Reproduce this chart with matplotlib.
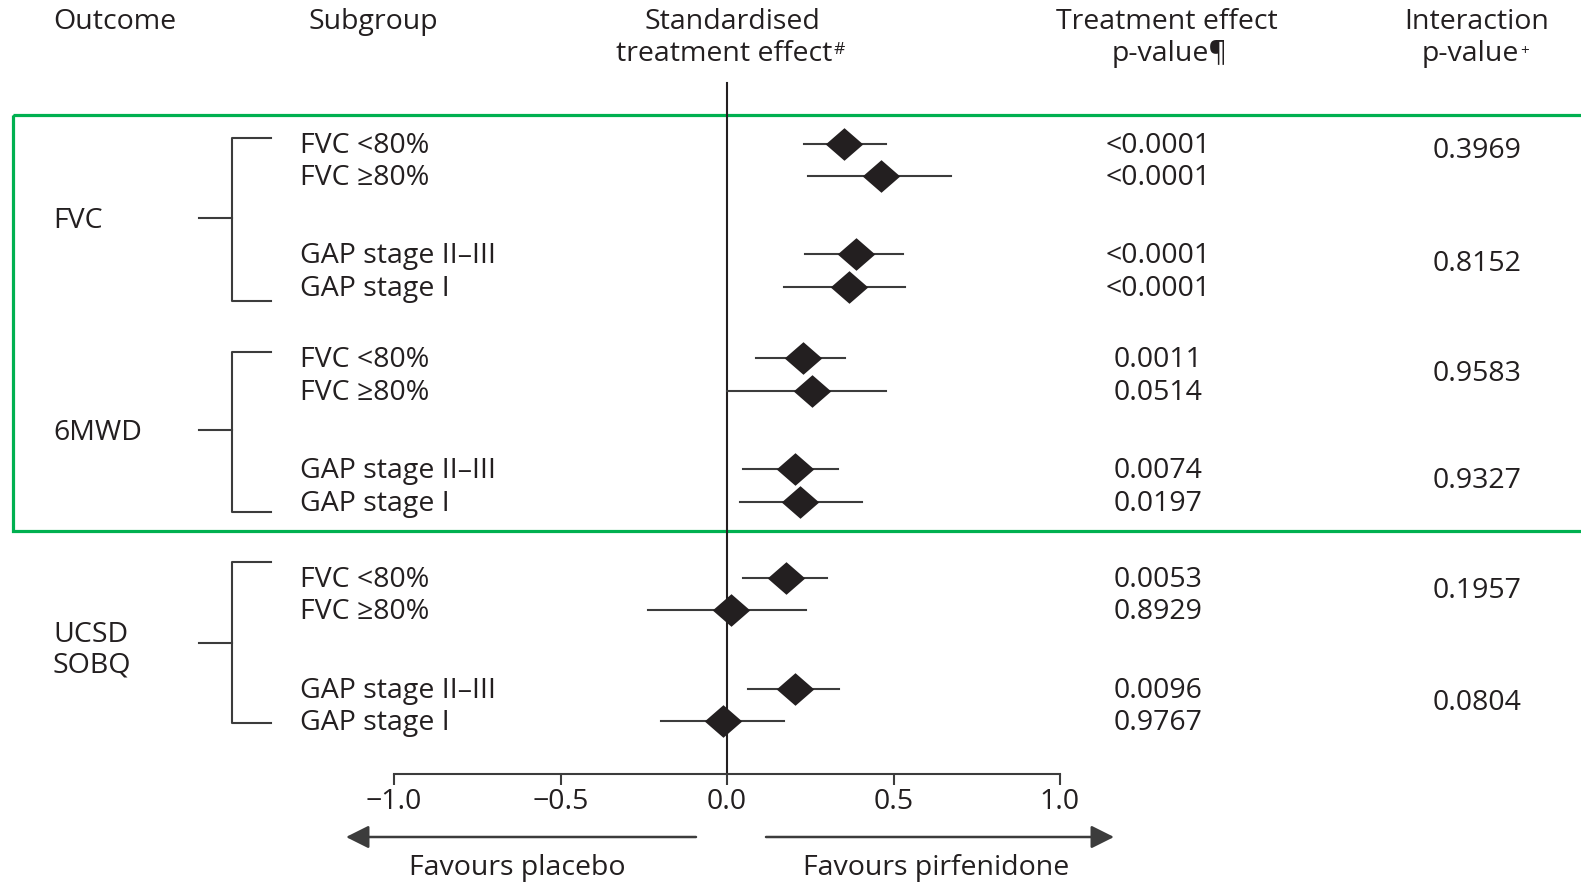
import matplotlib
matplotlib.use("Agg")
import matplotlib.pyplot as plt
from matplotlib.patches import Rectangle

plt.rcParams['font.family'] = ['Open Sans', 'DejaVu Sans']

# ---- data ----
outcomes = ["FVC", "6MWD", "UCSD\nSOBQ"]
subgroups = ["FVC <80%", "FVC \u226580%", "GAP stage II\u2013III", "GAP stage I"]

effect = [0.351, 0.462, 0.387, 0.367,
          0.228, 0.255, 0.204, 0.219,
          0.177, 0.012, 0.204, -0.012]
ci_low = [0.231, 0.243, 0.234, 0.171,
          0.087, 0.000, 0.048, 0.039,
          0.048, -0.237, 0.063, -0.198]
ci_high = [0.477, 0.673, 0.529, 0.535,
           0.354, 0.477, 0.333, 0.405,
           0.300, 0.237, 0.336, 0.171]

p_treat = ["<0.0001", "<0.0001", "<0.0001", "<0.0001",
           "0.0011", "0.0514", "0.0074", "0.0197",
           "0.0053", "0.8929", "0.0096", "0.9767"]
p_inter = ["0.3969", "0.8152", "0.9583", "0.9327", "0.1957", "0.0804"]

xticks = [-1.0, -0.5, 0.0, 0.5, 1.0]
xticklabels = ["\u22121.0", "\u22120.5", "0.0", "0.5", "1.0"]

# ---- layout (pixel positions, figure is 1581 x 882) ----
W, H = 1581, 882
row_y = [144, 176, 254, 287, 358, 391, 469, 502, 578, 610, 689, 721]
text_dy = 2
inter_y = [151, 264, 374, 481, 591, 703]
outcome_y = [221, 433, 650]
br_top = [138, 352, 562]
br_bot = [301, 512, 723]
br_mid = [218, 430, 643]
x0_px, unit_px = 727, 333.0
axis_y = 774

txt = '#231f20'
line_c = '#3c3c3c'
fs = 20.5

fig = plt.figure(figsize=(W / 100, H / 100), dpi=100)

# background axes in pixel units for the table part
bg = fig.add_axes([0, 0, 1, 1])
bg.set_xlim(0, W)
bg.set_ylim(H, 0)
bg.axis('off')

# forest axes
lo, hi = -1.3, 1.3
ax = fig.add_axes([(x0_px + lo * unit_px) / W, 0, (hi - lo) * unit_px / W, 1])
ax.set_xlim(lo, hi)
ax.set_ylim(H, 0)
ax.patch.set_alpha(0)
for s in ['top', 'left', 'right']:
    ax.spines[s].set_visible(False)
ax.spines['bottom'].set_position(('data', axis_y))
ax.spines['bottom'].set_bounds(-1, 1)
ax.spines['bottom'].set_color(line_c)
ax.spines['bottom'].set_linewidth(1.5)
ax.set_yticks([])
ax.set_xticks(xticks)
ax.set_xticklabels(xticklabels, fontsize=fs, color=txt)
ax.tick_params(axis='x', direction='out', length=8, width=1.5, color=line_c, pad=2)

ax.plot([0, 0], [83, axis_y], color=txt, lw=1.5, zorder=1)

diamond = [(-1, 0), (0, 0.87), (1, 0), (0, -0.87), (-1, 0)]
for i in range(len(effect)):
    ax.plot([ci_low[i], ci_high[i]], [row_y[i], row_y[i]], color=line_c, lw=1.5, zorder=2)
    ax.plot(effect[i], row_y[i], marker=diamond, markersize=27, color=txt,
            markeredgewidth=0, linestyle='none', zorder=3)

# headers
bg.text(53, 22, "Outcome", fontsize=fs, color=txt, ha='left', va='center')
bg.text(308, 22, "Subgroup", fontsize=fs, color=txt, ha='left', va='center')
bg.text(732, 22, "Standardised", fontsize=fs, color=txt, ha='center', va='center')
t1 = bg.text(724, 54, "treatment effect", fontsize=fs, color=txt, ha='center', va='center')
bg.annotate("#", xy=(1, 0.92), xycoords=t1, xytext=(1, 0), textcoords='offset points',
            fontsize=12.5, color=txt, ha='left', va='top')
bg.text(1167, 22, "Treatment effect", fontsize=fs, color=txt, ha='center', va='center')
bg.text(1170, 54, "p-value\u00b6", fontsize=fs, color=txt, ha='center', va='center')
bg.text(1477, 22, "Interaction", fontsize=fs, color=txt, ha='center', va='center')
t2 = bg.text(1470, 54, "p-value", fontsize=fs, color=txt, ha='center', va='center')
bg.annotate("+", xy=(1, 0.9), xycoords=t2, xytext=(1, -1), textcoords='offset points',
            fontsize=11, color=txt, ha='left', va='top')

# outcome labels and brackets
for k, name in enumerate(outcomes):
    bg.text(53, outcome_y[k], name, fontsize=fs, color=txt, ha='left', va='center',
            linespacing=1.1)
    bg.plot([271, 232, 232, 271], [br_top[k], br_top[k], br_bot[k], br_bot[k]],
            color=line_c, lw=1.5)
    bg.plot([199, 232], [br_mid[k], br_mid[k]], color=line_c, lw=1.5)

# subgroup labels and treatment p-values
for i in range(len(row_y)):
    bg.text(300, row_y[i] + text_dy, subgroups[i % 4], fontsize=fs, color=txt,
            ha='left', va='center')
    bg.text(1158, row_y[i] + text_dy, p_treat[i], fontsize=fs, color=txt,
            ha='center', va='center')

for j, p in enumerate(p_inter):
    bg.text(1477, inter_y[j], p, fontsize=fs, color=txt, ha='center', va='center')

# favours arrows
arr = dict(arrowstyle='-|>,head_length=0.7,head_width=0.35', color=line_c, lw=1.8,
           mutation_scale=20, shrinkA=0, shrinkB=0)
bg.annotate('', xy=(346, 837), xytext=(696, 837), arrowprops=arr)
bg.annotate('', xy=(1114, 837), xytext=(766, 837), arrowprops=arr)
bg.text(517, 868, "Favours placebo", fontsize=fs, color=txt, ha='center', va='center')
bg.text(936, 868, "Favours pirfenidone", fontsize=fs, color=txt, ha='center', va='center')

# green highlight box
bg.add_patch(Rectangle((13, 115), W, 416, fill=False, edgecolor='#00b050', lw=2.3))

fig.savefig("out.png", dpi=100)
